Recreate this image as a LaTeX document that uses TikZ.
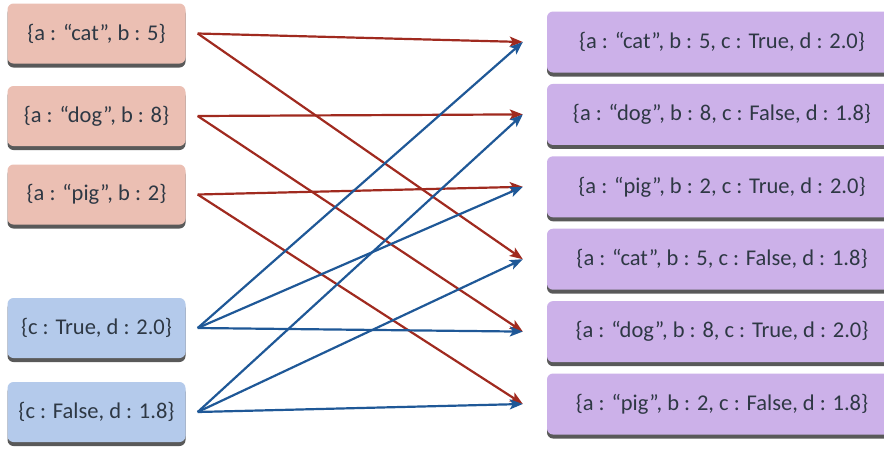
\documentclass[tikz,border=0pt]{standalone}
\usepackage{fontspec}
\setmainfont{Carlito}
\usetikzlibrary{arrows.meta,positioning,shadows}
\definecolor{txtgray}{HTML}{2E3844}
\definecolor{redfill}{HTML}{EBBFB3}
\definecolor{bluefill}{HTML}{B4CAEB}
\definecolor{purpfill}{HTML}{CCB1E9}
\definecolor{redline}{HTML}{A02A1F}
\definecolor{blueline}{HTML}{1F5897}
\tikzset{
  rec/.style     = {rounded corners=6pt, minimum height=60pt, align=center,
                    text=txtgray, font=\fontsize{22.5}{26}\selectfont,
                    drop shadow={shadow xshift=0pt, shadow yshift=-4pt,
                                 fill=black!65, opacity=1}},
  inrec/.style   = {rec, fill=#1, minimum width=178pt},
  outrec/.style  = {rec, fill=purpfill, minimum width=350pt, minimum height=61pt},
  redsig/.style  = {-{Stealth[length=13pt,width=10pt,inset=3pt]}, line width=2.2pt, redline},
  bluesig/.style = {-{Stealth[length=13pt,width=10pt,inset=3pt]}, line width=2.2pt, blueline},
}

\begin{document}
\begin{tikzpicture}[x=1pt,y=-1pt,node distance=11pt]
\useasboundingbox (0,0) rectangle (884,448);
% ---- inputs ----
\node[inrec=redfill] (cat) at (96.5,33.5) {\{a : “cat”, b : 5\}};
\node[inrec=redfill] (dog) at (96.5,116) {\{a : “dog”, b : 8\}};
\node[inrec=redfill] (pig) at (96.5,194.5) {\{a : “pig”, b : 2\}};
\node[inrec=bluefill] (tru) at (96.5,328) {\{c : True, d : 2.0\}};
\node[inrec=bluefill] (fal) at (96.5,412) {\{c : False, d : 1.8\}};
% ---- outputs ----
\node[outrec] (o1) at (722,42) {\{a : “cat”, b : 5, c : True, d : 2.0\}};
\node[outrec, below=of o1] (o2) {\{a : “dog”, b : 8, c : False, d : 1.8\}};
\node[outrec, below=of o2] (o3) {\{a : “pig”, b : 2, c : True, d : 2.0\}};
\node[outrec, below=of o3] (o4) {\{a : “cat”, b : 5, c : False, d : 1.8\}};
\node[outrec, below=of o4] (o5) {\{a : “dog”, b : 8, c : True, d : 2.0\}};
\node[outrec, below=of o5] (o6) {\{a : “pig”, b : 2, c : False, d : 1.8\}};
% ---- joins ----
\foreach \src/\dst in {cat/o1, cat/o4, dog/o2, dog/o5, pig/o3, pig/o6}
  \draw[redsig] ([xshift=12pt]\src.east) -- ([xshift=-24pt]\dst.west);
\foreach \src/\dst in {tru/o1, tru/o3, tru/o5, fal/o2, fal/o4, fal/o6}
  \draw[bluesig] ([xshift=12pt]\src.east) -- ([xshift=-24pt]\dst.west);
\end{tikzpicture}
\end{document}
